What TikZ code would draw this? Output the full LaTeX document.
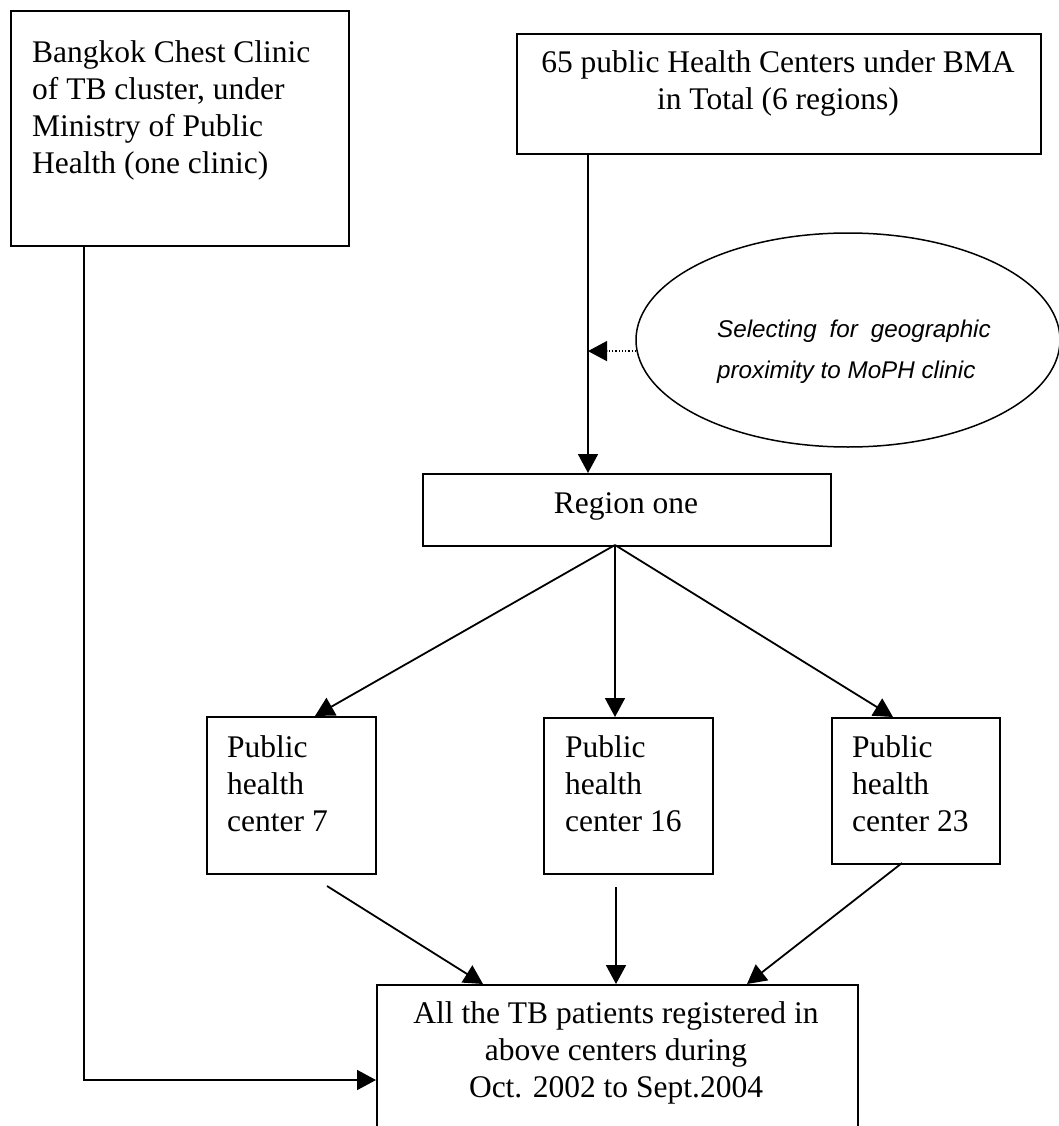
\documentclass[tikz,border=0pt]{standalone}
\usepackage{fontspec}
\setmainfont{Liberation Serif}
\newfontfamily\ellfont{Liberation Sans}
\usetikzlibrary{arrows.meta,shapes.geometric}
\newcommand{\stackL}[1]{\begin{tabular}[t]{@{}l@{}}#1\end{tabular}}
\newcommand{\stackC}[1]{\begin{tabular}[t]{@{}c@{}}#1\end{tabular}}
\begin{document}
\begin{tikzpicture}[x=1pt,y=-1pt,
  box/.style={draw, line width=1.8pt, rectangle, inner sep=0pt, anchor=north west},
  txt/.style={inner sep=0pt, font=\fontsize{31.5pt}{37pt}\selectfont},
  tip/.style={-{Triangle[length=19pt,width=20pt]}},
  arr/.style={line width=1.8pt, tip},
]
\useasboundingbox (0,0) rectangle (1059,1126);
\fill[white] (0,0) rectangle (1059,1126);

\node[box, minimum width=338pt, minimum height=235pt] (A) at (10,10) {};
\node[txt, anchor=base west] (At) at (32,63) {\stackL{Bangkok Chest Clinic\\ of TB cluster, under\\ Ministry of Public\\ Health (one clinic)}};

\node[box, minimum width=524pt, minimum height=120pt] (B) at (516,33) {};
\node[txt, anchor=base] (Bt) at (778,73) {\stackC{65 public Health Centers under BMA\\ in Total (6 regions)}};

\node[draw, ellipse, line width=1.5pt, minimum width=424pt, minimum height=214pt, inner sep=0pt] (E) at (848,340) {};
\node[anchor=base west, inner sep=0pt, font=\ellfont\itshape\fontsize{24.2pt}{41pt}\selectfont] (Et) at (717,337) {\stackL{Selecting\hspace{13pt}for\hspace{13pt}geographic\\ proximity to MoPH clinic}};

\node[box, minimum width=408pt, minimum height=72pt] (R) at (422,473) {};
\node[txt, anchor=base] (Rt) at (626,513) {Region one};

\node[box, minimum width=169pt, minimum height=157pt] (P7) at (206,716) {};
\node[txt, anchor=base west] (P7t) at (227,757) {\stackL{Public\\ health\\ center 7}};
\node[box, minimum width=169pt, minimum height=156pt] (P16) at (543,717) {};
\node[txt, anchor=base west] (P16t) at (565,757) {\stackL{Public\\ health\\ center 16}};
\node[box, minimum width=168pt, minimum height=146pt] (P23) at (831,717) {};
\node[txt, anchor=base west] (P23t) at (852,757) {\stackL{Public\\ health\\ center 23}};

\node[box, minimum width=481pt, minimum height=200pt] (T) at (376,984) {};
\node[txt, anchor=base] (Tt) at (616,1023) {\stackC{All the TB patients registered in\\ above centers during\\ Oct. 2002 to Sept.2004}};

\coordinate (bx) at (588,0);
\coordinate (fan) at (615,545);
\coordinate (p7in) at (315,716);
\coordinate (p23in) at (893,717);
\coordinate (p7out) at (327,886);
\coordinate (tin7) at (483,984);
\coordinate (p16out) at (616,887);
\coordinate (p23out) at (902,863);
\coordinate (tin23) at (747,984);
\coordinate (ax) at (84,1080);

\draw[arr] (B.south -| bx) -- (R.north -| bx);
\draw[dotted, line width=1.3pt, tip] (E.183) -- (E.183 -| bx);
\draw[arr] (fan) -- (p7in);
\draw[arr] (fan) -- (P16.north -| fan);
\draw[arr] (fan) -- (p23in);
\draw[arr] (p7out) -- (tin7);
\draw[arr] (p16out) -- (T.north -| p16out);
\draw[arr] (p23out) -- (tin23);
\draw[arr] (A.south -| ax) -- (ax) -- (T.west |- ax);
\end{tikzpicture}
\end{document}
